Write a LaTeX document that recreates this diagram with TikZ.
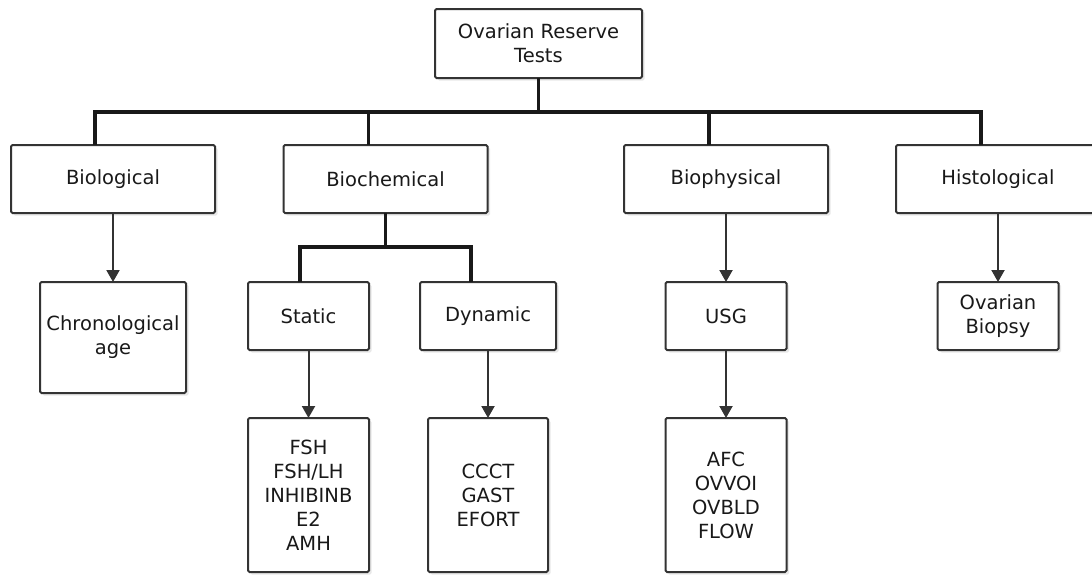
\documentclass[tikz,border=0pt]{standalone}
\usepackage{fontspec}
\setmainfont{DejaVu Sans}
\usetikzlibrary{positioning,arrows.meta,shadows}

\tikzset{
  box/.style={draw=black!80,line width=2pt,rounded corners=1.5pt,fill=white,
    align=center,inner sep=0pt,outer sep=0pt,text=black!90,
    font=\fontsize{19.5}{24}\selectfont,
    drop shadow={opacity=0.18,shadow xshift=2.5pt,shadow yshift=-2.5pt}},
  lvl/.style={box,minimum width=204pt,minimum height=68pt},
  sub/.style={box,minimum width=121pt,minimum height=68pt},
  leaf/.style={box,minimum width=121pt,minimum height=154pt},
  trunk/.style={line width=3.4pt,black!90},
  arr/.style={line width=2pt,black!80,-{Triangle[width=13pt,length=12pt]}}
}

\begin{document}
\begin{tikzpicture}
    \clip (0,0) rectangle (1092pt,-574pt);

    \node [box,minimum width=207pt,minimum height=69pt] (root) at (538.5pt,-43.5pt) {Ovarian Reserve\\Tests};

    \node [lvl,below=67pt of root,xshift=-425.5pt] (biol) {Biological};
    \node [lvl,below=67pt of root,xshift=-153pt] (bchem) {Biochemical};
    \node [lvl,below=67pt of root,xshift=187.5pt] (bphys) {Biophysical};
    \node [lvl,below=67pt of root,xshift=459.5pt] (histo) {Histological};

    \node [sub,below=69pt of biol,minimum width=146pt,minimum height=111pt] (chron) {Chronological\\age};
    \node [sub,below=69pt of bchem,xshift=-77pt] (static) {Static};
    \node [sub,below=69pt of bchem,xshift=102.5pt,minimum width=136pt] (dyn) {Dynamic};
    \node [sub,below=69pt of bphys] (usg) {USG};
    \node [sub,below=69pt of histo] (biopsy) {Ovarian\\Biopsy};

    \node [leaf,below=68pt of static] (hormones) {FSH\\FSH/LH\\INHIBINB\\E2\\AMH};
    \node [leaf,below=68pt of dyn,minimum width=120pt] (tests) {CCCT\\GAST\\EFORT};
    \node [leaf,below=68pt of usg] (scans) {AFC\\OVVOI\\OVBLD\\FLOW};

    % tree lines
    \draw [trunk] (root.south) -- ++(0,-34pt) coordinate (hub);
    \draw [trunk] ([xshift=-18pt]biol.north) |- (hub) -| ([xshift=-17pt]histo.north);
    \draw [trunk] ([xshift=-17pt]bchem.north) -- ([xshift=-17pt]bchem.north |- hub);
    \draw [trunk] ([xshift=-17pt]bphys.north) -- ([xshift=-17pt]bphys.north |- hub);

    \draw [trunk] (bchem.south) -- ++(0,-34pt) coordinate (bhub);
    \draw [trunk] ([xshift=-8.5pt]static.north) |- (bhub) -| ([xshift=-17pt]dyn.north);

    % arrows
    \draw [arr] (biol) -- (chron);
    \draw [arr] (bphys) -- (usg);
    \draw [arr] (histo) -- (biopsy);
    \draw [arr] (static) -- (hormones);
    \draw [arr] (dyn) -- (tests);
    \draw [arr] (usg) -- (scans);

\end{tikzpicture}
\end{document}
